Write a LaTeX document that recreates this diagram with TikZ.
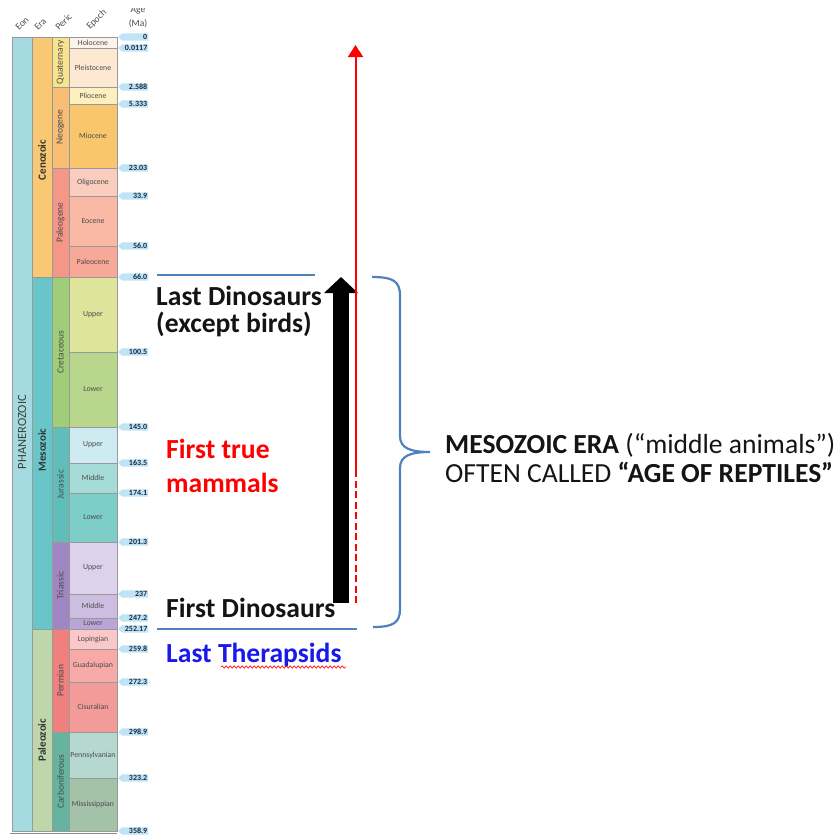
\documentclass[tikz,border=0pt]{standalone}
\usepackage{fontspec}
\setmainfont{Carlito}
\usetikzlibrary{arrows.meta,decorations.pathmorphing}
\definecolor{eonC}{RGB}{165,218,224}
\definecolor{ceno}{RGB}{249,200,115}
\definecolor{meso}{RGB}{104,198,200}
\definecolor{paleo}{RGB}{190,215,170}
\definecolor{quat}{RGB}{248,228,140}
\definecolor{neog}{RGB}{248,190,115}
\definecolor{paleog}{RGB}{245,150,135}
\definecolor{cret}{RGB}{160,205,120}
\definecolor{jura}{RGB}{95,190,185}
\definecolor{tria}{RGB}{160,135,195}
\definecolor{perm}{RGB}{240,128,125}
\definecolor{carb}{RGB}{100,180,160}
\definecolor{eHol}{RGB}{253,242,236}
\definecolor{ePle}{RGB}{253,233,210}
\definecolor{ePli}{RGB}{253,240,190}
\definecolor{eMio}{RGB}{249,198,110}
\definecolor{eOli}{RGB}{251,205,190}
\definecolor{eEoc}{RGB}{250,185,165}
\definecolor{ePal}{RGB}{248,168,150}
\definecolor{eUC}{RGB}{222,228,155}
\definecolor{eLC}{RGB}{185,215,140}
\definecolor{eUJ}{RGB}{205,235,240}
\definecolor{eMJ}{RGB}{165,220,215}
\definecolor{eLJ}{RGB}{125,205,200}
\definecolor{eUT}{RGB}{220,210,235}
\definecolor{eMT}{RGB}{205,190,225}
\definecolor{eLT}{RGB}{185,165,215}
\definecolor{eLop}{RGB}{250,200,200}
\definecolor{eGua}{RGB}{247,170,168}
\definecolor{eCis}{RGB}{243,155,152}
\definecolor{ePen}{RGB}{182,217,207}
\definecolor{eMis}{RGB}{163,194,168}
\definecolor{tagC}{RGB}{190,228,246}
\definecolor{tagT}{RGB}{30,40,70}
\definecolor{braceC}{RGB}{79,129,189}
\definecolor{redT}{RGB}{255,0,0}
\definecolor{blueT}{RGB}{25,25,235}
\definecolor{darkT}{RGB}{20,20,20}
\tikzset{
  cell/.style={draw=black!40, line width=0.4pt},
  epochlbl/.style={inner sep=0pt, font=\fontsize{7.8}{8}\selectfont, text=black!70},
  periodlbl/.style={inner sep=0pt, rotate=90, font=\fontsize{9.5}{10}\selectfont, text=black!70},
  eralbl/.style={inner sep=0pt, rotate=90, font=\bfseries\fontsize{11}{12}\selectfont, text=black!80},
  taglbl/.style={inner sep=0pt, font=\bfseries\fontsize{8}{8}\selectfont, text=tagT},
  hdr/.style={inner sep=0pt, font=\fontsize{9.5}{10}\selectfont, text=black!70},
  bigtxt/.style={inner sep=0pt, font=\fontsize{27.6}{28}\selectfont, text=darkT},
  bluestroke/.style={draw=braceC, line width=2.2pt},
}
\begin{document}
\begin{tikzpicture}[x=1pt,y=-1pt]
\useasboundingbox (0,0) rectangle (838,836);
% Eon column
\filldraw[fill=eonC, cell] (12,37) rectangle (32,831);
\node[inner sep=0pt, rotate=90, font=\fontsize{12.5}{13}\selectfont, text=black!75] (eon) at (22,432) {PHANEROZOIC};
% Era column
\filldraw[fill=ceno, cell] (32,37) rectangle (52,277);
\filldraw[fill=meso, cell] (32,277) rectangle (52,629);
\filldraw[fill=paleo, cell] (32,629) rectangle (52,831);
\node[eralbl] (eraC) at (42,160) {Cenozoic};
\node[eralbl] (eraM) at (42,450) {Mesozoic};
\node[eralbl] (eraP) at (42,740) {Paleozoic};
% Period column
\foreach \a/\b/\c/\t [count=\k] in {37/87/quat/Quaternary, 87/168/neog/Neogene, 168/277/paleog/Paleogene, 277/427/cret/Cretaceous, 427/542/jura/Jurassic, 542/629/tria/Triassic, 629/732/perm/Permian, 732/831/carb/Carboniferous}{
  \filldraw[fill=\c, cell] (52,\a) rectangle (69,\b);
  \node[periodlbl] (per\k) at (60.5,{(\a+\b)/2}) {\t};
}
% Epoch column
\foreach \a/\b/\c/\t [count=\k] in {37/48/eHol/Holocene, 48/87/ePle/Pleistocene, 87/104/ePli/Pliocene, 104/168/eMio/Miocene, 168/196/eOli/Oligocene, 196/246/eEoc/Eocene, 246/277/ePal/Paleocene, 277/352/eUC/Upper, 352/427/eLC/Lower, 427/463/eUJ/Upper, 463/493/eMJ/Middle, 493/542/eLJ/Lower, 542/594/eUT/Upper, 594/618/eMT/Middle, 618/629/eLT/Lower, 629/649/eLop/Lopingian, 649/682/eGua/Guadalupian, 682/732/eCis/Cisuralian, 732/778/ePen/Pennsylvanian, 778/831/eMis/Mississippian}{
  \filldraw[fill=\c, cell] (69,\a) rectangle (117,\b);
  \node[epochlbl] (ep\k) at (93,{(\a+\b)/2}) {\t};
}
\draw[black!45, line width=0.8pt] (10,833) -- (117,833);
% Age tags
\foreach \y/\t [count=\k] in {37/0, 48/0.0117, 87/2.588, 104/5.333, 168/23.03, 196/33.9, 246/56.0, 277/66.0, 352/100.5, 427/145.0, 463/163.5, 493/174.1, 542/201.3, 594/237, 618/247.2, 629/252.17, 649/259.8, 682/272.3, 732/298.9, 778/323.2, 831/358.9}{
  \fill[tagC] (118,\y) -- (122,\y-3.6) -- (148,\y-3.6) -- (148,\y+3.6) -- (122,\y+3.6) -- cycle;
  \node[taglbl, anchor=east] (tag\k) at (147.5,\y) {\t};
}
% Header
\begin{scope}
\clip (0,8) rectangle (160,36);
\node[hdr, rotate=45, anchor=base west] (hEon) at (19,31) {Eon};
\node[hdr, rotate=45, anchor=base west] (hEra) at (38,31) {Era};
\begin{scope}
\clip (40,40) -- (94,40) -- (54,0) -- (40,0) -- cycle;
\node[hdr, rotate=45, anchor=base west] (hPer) at (59,31) {Period};
\end{scope}
\node[hdr, rotate=45, anchor=base west] (hEpo) at (90,30) {Epoch};
\node[hdr, anchor=base] (hAge) at (138,12.5) {Age};
\node[hdr, anchor=base] (hMa) at (138,26) {(Ma)};
\end{scope}
% Blue lines and brace
\coordinate (tlL) at (157,275);
\coordinate (tlR) at (315,275);
\coordinate (blL) at (157,629);
\coordinate (blR) at (357,629);
\draw[bluestroke] (tlL) -- (tlR);
\draw[bluestroke] (blL) -- (blR);
\coordinate (brTop) at (372,277);
\coordinate (brTip) at (430,452);
\coordinate (brBot) at (373,627);
\draw[bluestroke] (brTop) .. controls (393,277) and (400,281) .. (400,296) -- (400,436)
  .. controls (400,448) and (410,452) .. (brTip)
  .. controls (410,452) and (400,456) .. (400,468) -- (400,609)
  .. controls (400,623) and (393,627) .. (brBot);
% Black arrow
\coordinate (bkS) at (341,603);
\coordinate (bkE) at (341,277);
\draw[black, line width=16pt, -{Triangle[length=16pt,width=33pt]}] (bkS) -- (bkE);
% Red arrow
\coordinate (rdB) at (355.5,603);
\coordinate (rdM) at (355.5,470);
\coordinate (rdT) at (355.5,45);
\draw[redT, line width=2pt, dash pattern=on 7pt off 3.5pt] (rdB) -- (rdM);
\draw[redT, line width=2pt, -{Triangle[length=12pt,width=15pt]}] (rdM) -- (rdT);
% Texts
\node[bigtxt, anchor=base west] (ldA) at (156,305) {\bfseries Last Dinosaurs};
\node[bigtxt, anchor=base west] (ldB) at (156,332) {\bfseries (except birds)};
\node[bigtxt, text=redT, anchor=base west] (ftA) at (166,458) {\bfseries First true};
\node[bigtxt, text=redT, anchor=base west] (ftB) at (166,492) {\bfseries mammals};
\node[bigtxt, anchor=base west] (fd) at (166,617) {\bfseries First Dinosaurs};
\node[bigtxt, text=blueT, anchor=base west] (lt) at (166,662) {\bfseries Last Therapsids};
\coordinate (wvL) at (221,667);
\coordinate (wvR) at (346,667);
\draw[redT, line width=0.6pt, decorate, decoration={snake, amplitude=1.2pt, segment length=4pt}] (wvL) -- (wvR);
\node[bigtxt, anchor=base west] (mzA) at (445,453) {\textbf{MESOZOIC ERA} (“middle animals”)};
\node[bigtxt, anchor=base west] (mzB) at (445,482) {OFTEN CALLED \textbf{“AGE OF REPTILES”}};
\end{tikzpicture}
\end{document}
